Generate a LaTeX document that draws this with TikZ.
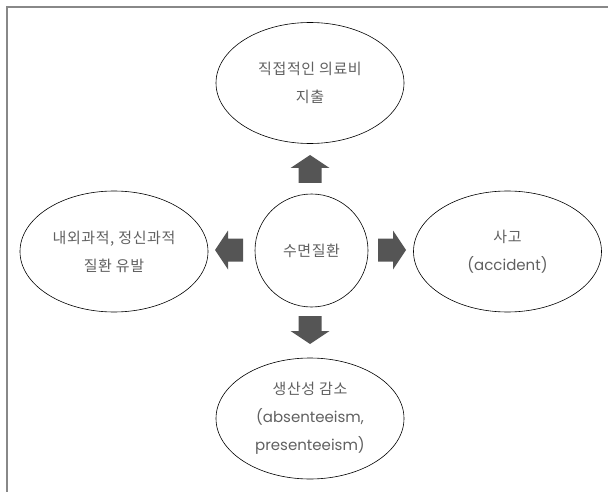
\documentclass[tikz,border=0pt]{standalone}
\usepackage{fontspec}
\setmainfont{Poppins}
\newfontfamily\kr[LetterSpace=4]{Noto Sans CJK KR}
\newfontfamily\lat{Poppins}
\usetikzlibrary{shapes.geometric}
\definecolor{txtgray}{HTML}{606060}
\definecolor{arrgray}{HTML}{555555}
\definecolor{framegray}{HTML}{888888}
\tikzset{
  oval/.style={ellipse, draw=black, line width=0.6pt, inner sep=0pt,
    minimum width=188pt, minimum height=121pt, align=center,
    text=txtgray, font=\kr\fontsize{15}{28}\selectfont},
  centre/.style={circle, draw=black, line width=0.6pt, inner sep=0pt,
    minimum size=113pt, align=center,
    text=txtgray, font=\kr\fontsize{15}{28}\selectfont},
  blockarrow/.pic={\fill[arrgray] (0,-11.5) -- (15,-11.5) -- (15,-19.5) -- (28,0) -- (15,19.5) -- (15,11.5) -- (0,11.5) -- cycle;}
}
\newcommand{\lt}[1]{{\lat\fontsize{15}{28}\selectfont #1}}
\begin{document}
\begin{tikzpicture}[x=1pt,y=-1pt]
\useasboundingbox (0,0) rectangle (608,492);
\draw[framegray, line width=2pt] (7,492) -- (7,7) -- (608,7);
\node[centre] (c) at (311.5,250.5) {수면질환};
\node[oval] (top) at (310,83) {직접적인 의료비\\지출};
\node[oval] (left) at (114,251.5) {내외과적, 정신과적\\질환 유발};
\node[oval] (right) at (507.5,251.5) {사고\\\lt{(accident)}};
\node[oval] (bot) at (310,418.5) {생산성 감소\\\lt{(absenteeism,}\\\lt{presenteeism)}};
\pic[rotate=90] at (310,183) {blockarrow};
\pic at (378,250) {blockarrow};
\pic[rotate=180] at (243,250) {blockarrow};
\pic[rotate=-90] at (310,316) {blockarrow};
\end{tikzpicture}
\end{document}
